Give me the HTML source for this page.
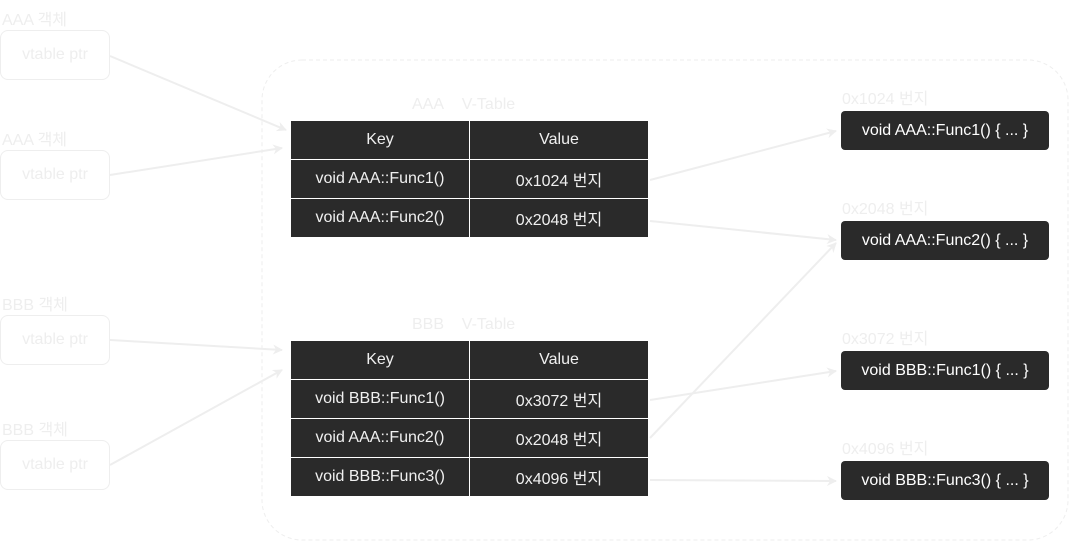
<!DOCTYPE html>
<html><head><meta charset="utf-8"><style>
body{margin:0;width:1081px;height:541px;background:#fff;position:relative;overflow:hidden;font-family:"Liberation Sans","Noto Sans CJK KR",sans-serif;}
.a{position:absolute;}
.lbl{color:#eee;font-size:16px;}
.obj{position:absolute;left:0;width:108px;height:48px;border:1px solid #eee;border-radius:8px;color:#eee;font-size:16px;display:flex;align-items:center;justify-content:center;}
table{position:absolute;left:290px;border-collapse:collapse;background:#2a2a2a;color:#f0f0f0;font-size:16px;}
td{border:1px solid #fff;width:178px;height:38px;text-align:center;padding:0;}
.fn{position:absolute;left:841px;width:208px;height:39px;background:#2a2a2a;border-radius:4px;color:#fff;font-size:16px;display:flex;align-items:center;justify-content:center;}
</style></head><body>
<svg class="a" style="left:0;top:0" width="1081" height="541">
<defs><marker id="m" markerWidth="10" markerHeight="10" refX="9" refY="5" orient="auto" markerUnits="userSpaceOnUse"><path d="M0,0 L10,5 L0,10 L3,5 z" fill="#eee"/></marker></defs>
<rect x="262" y="60" width="806" height="480" rx="40" fill="none" stroke="#eee" stroke-dasharray="4 3"/>
<g stroke="#eee" stroke-width="2" fill="none" marker-end="url(#m)">
<line x1="110" y1="56" x2="286" y2="130"/>
<line x1="110" y1="175" x2="282" y2="148"/>
<line x1="110" y1="340" x2="282" y2="350"/>
<line x1="110" y1="465" x2="282" y2="370"/>
<line x1="650" y1="180" x2="836" y2="131"/>
<line x1="650" y1="221" x2="836" y2="240"/>
<line x1="650" y1="400" x2="836" y2="371"/>
<line x1="650" y1="438" x2="836" y2="243"/>
<line x1="650" y1="480" x2="836" y2="481"/>
</g></svg>
<div class="a lbl" style="left:2px;top:6px">AAA 객체</div>
<div class="obj" style="top:30px">vtable ptr</div>
<div class="a lbl" style="left:2px;top:126px">AAA 객체</div>
<div class="obj" style="top:150px">vtable ptr</div>
<div class="a lbl" style="left:2px;top:291px">BBB 객체</div>
<div class="obj" style="top:315px">vtable ptr</div>
<div class="a lbl" style="left:2px;top:416px">BBB 객체</div>
<div class="obj" style="top:440px">vtable ptr</div>
<div class="a lbl" style="left:412px;top:96px">AAA&nbsp;&nbsp;&nbsp;&nbsp;V-Table</div>
<table style="top:120px"><tr><td>Key</td><td>Value</td></tr><tr><td>void AAA::Func1()</td><td>0x1024 번지</td></tr><tr><td>void AAA::Func2()</td><td>0x2048 번지</td></tr></table>
<div class="a lbl" style="left:412px;top:316px">BBB&nbsp;&nbsp;&nbsp;&nbsp;V-Table</div>
<table style="top:340px"><tr><td>Key</td><td>Value</td></tr><tr><td>void BBB::Func1()</td><td>0x3072 번지</td></tr><tr><td>void AAA::Func2()</td><td>0x2048 번지</td></tr><tr><td>void BBB::Func3()</td><td>0x4096 번지</td></tr></table>
<div class="a lbl" style="left:842px;top:85px">0x1024 번지</div>
<div class="fn" style="top:111px">void AAA::Func1() { ... }</div>
<div class="a lbl" style="left:842px;top:195px">0x2048 번지</div>
<div class="fn" style="top:221px">void AAA::Func2() { ... }</div>
<div class="a lbl" style="left:842px;top:325px">0x3072 번지</div>
<div class="fn" style="top:351px">void BBB::Func1() { ... }</div>
<div class="a lbl" style="left:842px;top:435px">0x4096 번지</div>
<div class="fn" style="top:461px">void BBB::Func3() { ... }</div>
</body></html>
